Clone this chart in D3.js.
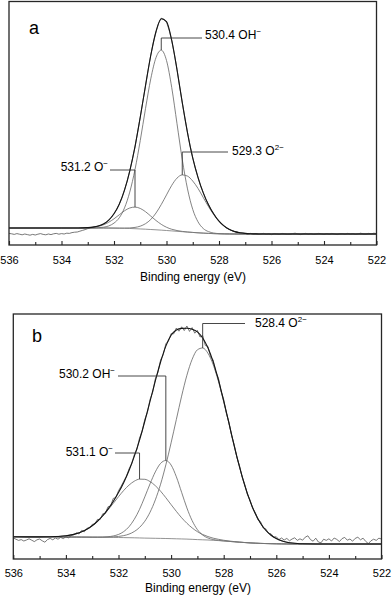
<!DOCTYPE html>
<html lang="en">
<head>
<meta charset="UTF-8">
<title>O 1s spectra</title>
<style>
  body { margin: 0; background: #fff; }
  svg { display: block; font-family: "Liberation Sans", Arial, sans-serif; }
</style>
</head>
<body>
<script src="https://d3js.org/d3.v7.min.js"></script>
<script>
// energies (eV) where the fitted curves are sampled
const fitEnergy = [536, 535,
  534.6, 534.4, 534.2, 534.0, 533.8, 533.6, 533.4, 533.2, 533.0, 532.8,
  532.6, 532.4, 532.2, 532.0, 531.8, 531.6, 531.4, 531.2, 531.0, 530.8,
  530.6, 530.4, 530.2, 530.0, 529.8, 529.6, 529.4, 529.2, 529.0, 528.8,
  528.6, 528.4, 528.2, 528.0, 527.8, 527.6, 527.4, 527.2, 527.0, 526.8,
  526.6, 526.4, 526.2, 526.0, 525.8, 525.6, 525.4, 525.2, 525.0,
  524, 523, 522];

// ---- panel a : background + three components (counts, arbitrary units)
const bgA = [3.0, 3.0,
  3.0, 3.0, 3.0, 3.0, 3.0, 3.0, 3.0, 3.0, 3.0, 3.0,
  3.0, 3.0, 2.98, 2.95, 2.9, 2.85, 2.76, 2.65, 2.53, 2.4,
  2.25, 2.1, 1.93, 1.75, 1.55, 1.35, 1.15, 0.95, 0.77, 0.6,
  0.44, 0.3, 0.18, 0.1, 0.05, 0.02, 0, 0, 0, 0,
  0, 0, 0, 0, 0, 0, 0, 0, 0,
  0, 0, 0];
const oMinusA = [0, 0,
  0, 0, 0, 0, 0, 0, 0.02, 0.06, 0.15, 0.37,
  0.82, 1.62, 2.9, 4.65, 6.7, 8.75, 10.25, 10.8, 10.25, 8.75,
  6.7, 4.65, 2.9, 1.62, 0.82, 0.37, 0.15, 0.06, 0.02, 0,
  0, 0, 0, 0, 0, 0, 0, 0, 0, 0,
  0, 0, 0, 0, 0, 0, 0, 0, 0,
  0, 0, 0];
const ohA = [0, 0,
  0, 0, 0, 0, 0, 0, 0, 0, 0.02, 0.05,
  0.15, 0.41, 1.05, 2.5, 5.2, 10.2, 18.2, 29.6, 44.2, 60.3,
  75.3, 86.1, 90, 85.0, 71.6, 53.8, 36.1, 21.6, 11.5, 5.5,
  2.3, 0.88, 0.3, 0.09, 0.03, 0, 0, 0, 0, 0,
  0, 0, 0, 0, 0, 0, 0, 0, 0,
  0, 0, 0];
const o2A = [0, 0,
  0, 0, 0, 0, 0, 0, 0, 0, 0, 0,
  0, 0, 0, 0.01, 0.04, 0.10, 0.27, 0.64, 1.39, 2.76,
  5.0, 8.4, 12.8, 17.8, 22.8, 26.6, 28.4, 28.0, 25.7, 22.2,
  17.8, 13.4, 9.5, 6.2, 3.85, 2.2, 1.2, 0.6, 0.29, 0.13,
  0.05, 0.02, 0, 0, 0, 0, 0, 0, 0,
  0, 0, 0];

// ---- panel b
const bgB = [3.6, 3.55,
  3.53, 3.52, 3.51, 3.5, 3.48, 3.47, 3.45, 3.43, 3.4, 3.38,
  3.35, 3.33, 3.3, 3.25, 3.2, 3.15, 3.1, 3.03, 2.95, 2.9,
  2.85, 2.8, 2.75, 2.68, 2.6, 2.53, 2.45, 2.33, 2.2, 2.1,
  2.0, 1.85, 1.7, 1.5, 1.3, 1.1, 0.9, 0.72, 0.55, 0.42,
  0.3, 0.22, 0.15, 0.1, 0.05, 0.02, 0, 0, 0,
  0, 0, 0];
const oMinusB = [0, 0.03,
  0.11, 0.21, 0.37, 0.65, 1.07, 1.72, 2.66, 3.97, 5.72, 7.93,
  10.6, 13.7, 17.0, 20.4, 23.6, 26.3, 28.3, 29.4, 29.4, 28.3,
  26.3, 23.6, 20.4, 17.0, 13.7, 10.6, 7.93, 5.72, 3.97, 2.66,
  1.72, 1.07, 0.65, 0.37, 0.21, 0.11, 0.06, 0.03, 0.01, 0,
  0, 0, 0, 0, 0, 0, 0, 0, 0,
  0, 0, 0];
const ohB = [0, 0,
  0, 0, 0, 0, 0, 0, 0, 0.01, 0.02, 0.05,
  0.12, 0.31, 0.71, 1.53, 3.01, 5.49, 9.24, 14.3, 20.6, 27.2,
  33.2, 37.5, 39, 36.8, 31.0, 23.3, 15.6, 9.35, 4.99, 2.37,
  1.01, 0.38, 0.13, 0.04, 0.01, 0, 0, 0, 0, 0,
  0, 0, 0, 0, 0, 0, 0, 0, 0,
  0, 0, 0];
const o2B = [0, 0,
  0, 0, 0, 0, 0, 0, 0, 0, 0.01, 0.02,
  0.06, 0.12, 0.26, 0.52, 0.99, 1.80, 3.14, 5.25, 8.43, 13.0,
  19.2, 27.1, 36.8, 47.9, 59.7, 71.4, 81.9, 90.0, 94.9, 95.9,
  93.4, 87.8, 79.6, 69.6, 58.9, 47.9, 37.7, 28.6, 21.0, 14.8,
  10.1, 6.66, 4.24, 2.6, 1.53, 0.88, 0.48, 0.25, 0.14,
  0, 0, 0];

// measured spectra, 536.0 -> 522.0 eV in 0.1 eV steps
const rawStart = 536, rawStep = 0.1;
const rawA = [
  0.3, 0.1, -0.2, 0.2, -0.1, -0.4, 0.0, -0.3, -0.6, -0.2,
  -0.5, -0.1, 0.2, -0.2, -0.4, 0.0, -0.3, 0.1, 0.3, -0.1,
  0.2, 0.0, 0.4, 0.3, 0.7, 0.9, 1.0, 1.4, 1.8, 2.2,
  2.7, 3.0, 3.4, 3.6, 4.0, 4.4, 5.1, 5.8, 7.0, 8.3,
  10.2, 12.2, 14.9, 18.1, 22.0, 26.4, 31.6, 37.4, 43.5, 51.0,
  58.5, 66.4, 74.0, 82.0, 89.4, 95.8, 101.0, 105.3, 107.9, 107.4,
  106.0, 102.0, 96.6, 89.9, 82.4, 73.8, 65.6, 58.0, 50.8, 44.0,
  38.2, 33.0, 28.2, 24.1, 20.7, 17.4, 14.6, 12.0, 10.1, 8.0,
  6.5, 5.0, 4.0, 3.0, 2.3, 1.6, 1.2, 0.9, 0.5, 0.5,
  0.2, 0.0, 0.3, -0.1, 0.2, -0.2, 0.1, 0.3, -0.1, 0.1,
  -0.3, 0.2, 0.0, -0.2, 0.3, 0.1, -0.2, -0.1, 0.2, 0.4,
  0.0, -0.3, 0.1, 0.3, -0.1, 0.2, -0.2, 0.0, 0.3, 0.1,
  -0.2, 0.2, -0.1, 0.3, 0.0, -0.3, 0.1, 0.2, -0.1, 0.3,
  0.0, 0.2, -0.2, 0.1, 0.4, 0.0, -0.1, 0.3, 0.1, 0.4,
  0.2];
const rawB = [
  3.0, 2.4, 1.8, 2.2, 1.5, 2.0, 2.6, 1.9, 1.2, 2.1,
  2.5, 1.6, 0.9, 2.2, 2.8, 2.1, 3.0, 2.4, 3.3, 2.7,
  3.6, 3.1, 4.2, 4.6, 5.6, 5.0, 6.8, 6.1, 7.9, 8.0,
  9.8, 10.0, 12.3, 12.2, 15.1, 15.3, 18.6, 19.0, 22.8, 23.2,
  26.6, 28.9, 31.4, 33.8, 37.5, 40.1, 44.6, 47.4, 53.0, 56.3,
  62.3, 65.8, 72.3, 75.9, 82.6, 85.8, 92.0, 94.6, 100.1, 101.5,
  105.2, 105.1, 108.0, 106.4, 108.6, 106.7, 109.0, 106.3, 108.2, 105.4,
  106.8, 103.5, 104.2, 99.3, 98.8, 93.6, 92.0, 86.0, 82.9, 76.4,
  72.2, 65.4, 60.9, 54.2, 49.6, 43.4, 39.2, 33.5, 29.9, 24.8,
  22.1, 17.8, 15.8, 12.1, 11.2, 8.0, 7.6, 5.4, 5.1, 3.5,
  3.6, 2.2, 3.0, 2.0, 2.8, 1.6, 2.5, 3.1, 1.8, 2.6,
  1.9, 3.4, 4.1, 2.2, 1.4, 2.9, 1.0, 0.6, 2.4, 1.8,
  2.6, 1.5, 3.0, 2.3, 1.2, 2.7, 3.3, 1.9, 2.5, 1.4,
  2.8, 3.4, 2.1, 2.9, 1.3, 0.2, 1.6, 2.4, 1.8, 2.9,
  2.5];

// peak labels (order: O-, OH-, O2-)
const peakPosA = ["531.2", "530.4", "529.3"];
const peakPosB = ["531.1", "530.2", "528.4"];
const ionNames = ["O", "OH", "O"];
const ionCharges = ["\u2212", "\u2212", "2\u2212"];

const tickValues = [536, 535, 534, 533, 532, 531, 530, 529, 528, 527, 526, 525, 524, 523, 522];
const axisTitle = "Binding energy (eV)";

// layout
const panels = [
  {
    letter: "a", bg: bgA, comps: [oMinusA, ohA, o2A], raw: rawA, pos: peakPosA,
    xRange: [9, 376.5], yDomain: [-5.5, 116.25], yRange: [245, 1.5],
    letterXY: [29, 34], titleXY: [193, 281], tickPad: 11,
    labels: [
      {anchor: "end", tx: 108, ty: 171, ly: 170, lx: 110},
      {anchor: "start", tx: 205, ty: 38.5, ly: 38, lx: 202},
      {anchor: "start", tx: 232, ty: 155, ly: 152, lx: 228}
    ]
  },
  {
    letter: "b", bg: bgB, comps: [oMinusB, ohB, o2B], raw: rawB, pos: peakPosB,
    xRange: [13.3, 381.5], yDomain: [-7.5, 115], yRange: [559, 314],
    letterXY: [32, 342], titleXY: [198, 592], tickPad: 10,
    labels: [
      {anchor: "end", tx: 113, ty: 456, ly: 453, lx: 115},
      {anchor: "end", tx: 115, ty: 378, ly: 376, lx: 118},
      {anchor: "start", tx: 255, ty: 327, ly: 323.5, lx: 245}
    ]
  }
];

const svg = d3.select("body").append("svg")
    .attr("width", 392)
    .attr("height", 597);

panels.forEach(function(p) {
  const x = d3.scaleLinear().domain([536, 522]).range(p.xRange);
  const y = d3.scaleLinear().domain(p.yDomain).range(p.yRange);
  const g = svg.append("g");

  const smooth = d3.line()
      .x(d => x(d[0]))
      .y(d => y(d[1]))
      .curve(d3.curveMonotoneX);

  // components sit on the background
  p.comps.forEach(function(c) {
    const pts = fitEnergy.map((e, i) => [e, p.bg[i] + c[i]]);
    g.append("path")
        .attr("d", smooth(pts))
        .attr("fill", "none")
        .attr("stroke", "#636363")
        .attr("stroke-width", 0.8);
  });

  g.append("path")
      .attr("d", smooth(fitEnergy.map((e, i) => [e, p.bg[i]])))
      .attr("fill", "none")
      .attr("stroke", "#777")
      .attr("stroke-width", 0.8);

  // raw spectrum
  const rawPts = p.raw.map((v, i) => [rawStart - i * rawStep, v]);
  g.append("path")
      .attr("d", d3.line().x(d => x(d[0])).y(d => y(d[1]))(rawPts))
      .attr("fill", "none")
      .attr("stroke", "#555")
      .attr("stroke-width", 0.8);

  // envelope = background + all components
  const env = fitEnergy.map((e, i) => [e, p.bg[i] + d3.sum(p.comps, c => c[i])]);
  g.append("path")
      .attr("d", smooth(env))
      .attr("fill", "none")
      .attr("stroke", "#141414")
      .attr("stroke-width", 1.1);

  // leaders + labels
  p.comps.forEach(function(c, k) {
    const iMax = d3.maxIndex(c);
    const px = x(fitEnergy[iMax]);
    const py = y(p.bg[iMax] + c[iMax]);
    const L = p.labels[k];
    g.append("path")
        .attr("d", `M${L.lx},${L.ly}H${px}V${py}`)
        .attr("fill", "none")
        .attr("stroke", "#333")
        .attr("stroke-width", 0.9);
    const t = g.append("text")
        .attr("x", L.tx)
        .attr("y", L.ty)
        .attr("text-anchor", L.anchor)
        .attr("font-size", 12)
        .attr("fill", "#000")
        .text(p.pos[k] + " " + ionNames[k]);
    t.append("tspan")
        .attr("dy", -5)
        .attr("font-size", 8)
        .text(ionCharges[k]);
  });

  // frame
  g.append("rect")
      .attr("x", p.xRange[0])
      .attr("y", p.yRange[1])
      .attr("width", p.xRange[1] - p.xRange[0])
      .attr("height", p.yRange[0] - p.yRange[1])
      .attr("fill", "none")
      .attr("stroke", "#262626")
      .attr("stroke-width", 1.3);

  // bottom axis, ticks pointing inwards
  const ax = g.append("g")
      .attr("transform", `translate(0,${p.yRange[0]})`)
      .call(d3.axisBottom(x)
          .tickValues(tickValues)
          .tickSizeInner(-4)
          .tickSizeOuter(0)
          .tickPadding(p.tickPad)
          .tickFormat(d => d % 2 === 0 ? d3.format("d")(d) : ""));
  ax.select(".domain").remove();
  ax.selectAll(".tick line")
      .attr("stroke", "#262626")
      .attr("stroke-width", 1.1)
      .attr("y2", d => d % 2 === 0 ? -4 : -3);
  ax.selectAll(".tick text")
      .attr("font-size", 11)
      .attr("font-family", "'Liberation Sans', Arial, sans-serif")
      .attr("fill", "#000");

  g.append("text")
      .attr("x", p.titleXY[0])
      .attr("y", p.titleXY[1])
      .attr("text-anchor", "middle")
      .attr("font-size", 12)
      .attr("fill", "#000")
      .text(axisTitle);

  g.append("text")
      .attr("x", p.letterXY[0])
      .attr("y", p.letterXY[1])
      .attr("font-size", 18)
      .attr("fill", "#000")
      .text(p.letter);
});
</script>
</body>
</html>
